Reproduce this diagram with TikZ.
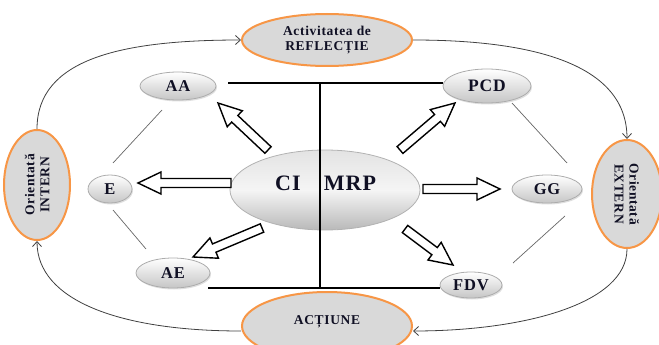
\documentclass[tikz,border=0pt]{standalone}
\usepackage{fontspec}
\setmainfont{Liberation Serif}[LetterSpace=5]
\usetikzlibrary{shapes.geometric,shadows,calc,arrows.meta}
\definecolor{orng}{HTML}{F79646}
\definecolor{lgray}{HTML}{D9D9D9}
\definecolor{txt}{HTML}{101024}
\newcommand\blockarrow[2]{%
  \draw[blockarr] let \p1=(#1), \p2=(#2),
    \n1={atan2(\y2-\y1,\x2-\x1)}, \n2={veclen(\x2-\x1,\y2-\y1)} in
    {[shift={(\p1)}, rotate=\n1]
     (0,-4.5) -- (\n2-23,-4.5) -- (\n2-23,-11) -- (\n2,0) -- (\n2-23,11) -- (\n2-23,4.5) -- (0,4.5) -- cycle};}
\begin{document}
\begin{tikzpicture}[x=1pt,y=-1pt,
  big/.style={ellipse, draw=orng, line width=2pt, fill=lgray, inner sep=0pt},
  bigtxt/.style={font=\bfseries\fontsize{13.5}{15}\selectfont, text=txt, align=center, inner sep=0pt},
  small/.style={ellipse, draw=gray!65, line width=0.8pt, top color=white, bottom color=gray!45,
    inner sep=0pt, text=txt, font=\bfseries\fontsize{16.5}{18}\selectfont,
    drop shadow={shadow xshift=1pt, shadow yshift=-1.5pt, opacity=0.25}},
  thin/.style={draw=gray!80!black, line width=0.7pt},
  solid line/.style={draw=black, line width=1.2pt},
  curve/.style={draw=black!75, line width=0.8pt, -{Straight Barb[length=5pt,width=9pt]}},
  blockarr/.style={draw=black, line width=1.4pt, fill=white, line join=miter}]
\useasboundingbox (0,0) rectangle (659,345);

% outer ellipses
\node[big, minimum width=170, minimum height=52] (refl) at (327,40) {};
\node[bigtxt] (refltxt) at (refl) {Activitatea de\\REFLECȚIE};
\node[big, minimum width=170, minimum height=68] (act) at (327,326) {};
\node[bigtxt] (acttxt) at (327,322) {ACȚIUNE};
\node[big, minimum width=66, minimum height=110] (intern) at (37,185) {};
\node[bigtxt, rotate=90] (interntxt) at (intern) {Orientată\\INTERN};
\node[big, minimum width=70, minimum height=108] (extern) at (627,194) {};
\node[bigtxt, rotate=-90] (externtxt) at (extern) {Orientată\\EXTERN};

% curved arrows
\draw[curve] (intern.north) .. controls +(0,-70) and +(-120,0) .. (refl.west);
\draw[curve] (refl.east) .. controls +(120,0) and +(0,-75) .. (extern.north);
\draw[curve] (extern.south) .. controls +(0,55) and +(110,0) .. ([yshift=-5pt]act.east);
\draw[curve] ([yshift=-5pt]act.west) .. controls +(-120,0) and +(0,60) .. (intern.south);

% small ellipses
\node[small, minimum width=76, minimum height=28] (aa) at (178,86) {AA};
\node[small, minimum width=88, minimum height=34, font=\bfseries\fontsize{17.5}{19}\selectfont] (pcd) at (487,86) {PCD};
\node[small, minimum width=44, minimum height=28] (e) at (110,189) {E};
\node[small, minimum width=70, minimum height=28] (gg) at (547,189) {GG};
\node[small, minimum width=74, minimum height=30] (ae) at (173,273) {AE};
\node[small, minimum width=62, minimum height=26] (fdv) at (471,285) {FDV};

% thin grey connectors
\coordinate (l1a) at (162,110); \coordinate (l1b) at (113,163);
\coordinate (l2a) at (113,210); \coordinate (l2b) at (146,249);
\coordinate (l3a) at (512,103); \coordinate (l3b) at (567,163);
\coordinate (l4a) at (565,216); \coordinate (l4b) at (513,263);
\draw[thin] (l1a) -- (l1b);
\draw[thin] (l2a) -- (l2b);
\draw[thin] (l3a) -- (l3b);
\draw[thin] (l4a) -- (l4b);

% central ellipse
\node[ellipse, draw=gray!60, line width=0.8pt, top color=gray!22, bottom color=gray!55, middle color=white!92!gray,
  minimum width=190, minimum height=80, inner sep=0pt] (ci) at (325,190) {};

% black lines
\coordinate (tl) at (228,83); \coordinate (tr) at (443,83);
\coordinate (vt) at (320,83); \coordinate (vb) at (320,288);
\coordinate (bl) at (208,288); \coordinate (br) at (440,288);
\draw[solid line] (tl) -- (tr);
\draw[solid line] (bl) -- (br);
\draw[solid line] (vt) -- (vb);

\node[text=txt, font=\bfseries\fontsize{22}{24}\selectfont, inner sep=0pt] (citxt) at (288,183) {CI};
\node[text=txt, font=\bfseries\fontsize{22}{24}\selectfont, inner sep=0pt] (mrptxt) at (350,183) {MRP};

% block arrows
\coordinate (b1s) at (231,183); \coordinate (b1t) at (138,183);
\coordinate (b2s) at (423,189); \coordinate (b2t) at (500,189);
\coordinate (b3s) at (268,150); \coordinate (b3t) at (218,103);
\coordinate (b4s) at (400,150); \coordinate (b4t) at (455,103);
\coordinate (b5s) at (262,228); \coordinate (b5t) at (193,257);
\coordinate (b6s) at (405,229); \coordinate (b6t) at (453,265);
\blockarrow{b1s}{b1t}
\blockarrow{b2s}{b2t}
\blockarrow{b3s}{b3t}
\blockarrow{b4s}{b4t}
\blockarrow{b5s}{b5t}
\blockarrow{b6s}{b6t}
\end{tikzpicture}
\end{document}
